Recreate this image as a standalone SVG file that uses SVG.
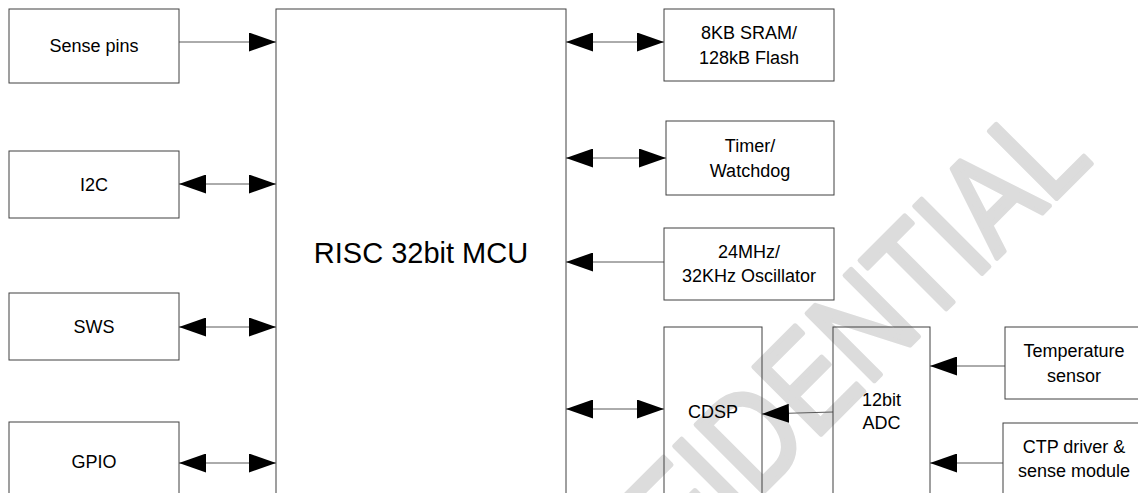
<svg xmlns="http://www.w3.org/2000/svg" width="1138" height="493" viewBox="0 0 1138 493">
<style>
.box{fill:none;stroke:#404040;stroke-width:1}
.t{font-family:"Liberation Sans",Arial,sans-serif;font-size:18px;fill:#000;text-anchor:middle}
.big{font-size:29px}
.c{fill:none;stroke:#595959;stroke-width:1}
.wm{font-family:"Liberation Sans",Arial,sans-serif;font-size:138px;fill:#dcdcdc;stroke:#dcdcdc;stroke-width:5;stroke-linejoin:round;stroke-linecap:round}
</style>
<defs>
<marker id="ah" viewBox="0 0 27 19" markerUnits="userSpaceOnUse" markerWidth="27" markerHeight="19" refX="27" refY="9.5" orient="auto-start-reverse">
<path d="M0,0 L27,9.5 L0,19 z" fill="#000"/>
</marker>
</defs>
<rect width="1138" height="493" fill="#fff"/>
<g id="watermark" transform="translate(629,629) rotate(-45) scale(0.82,1)">
<text class="wm" x="805" y="-2" text-anchor="end">CONFIDENTIAL</text>
</g>
<g id="connectors">
<line class="c" x1="179" y1="42" x2="276" y2="42" marker-end="url(#ah)"/>
<line class="c" x1="179" y1="184" x2="276" y2="184" marker-start="url(#ah)" marker-end="url(#ah)"/>
<line class="c" x1="179" y1="327" x2="276" y2="327" marker-start="url(#ah)" marker-end="url(#ah)"/>
<line class="c" x1="179" y1="463" x2="276" y2="463" marker-start="url(#ah)" marker-end="url(#ah)"/>
<line class="c" x1="566" y1="42" x2="664" y2="42" marker-start="url(#ah)" marker-end="url(#ah)"/>
<line class="c" x1="566" y1="158" x2="666" y2="158" marker-start="url(#ah)" marker-end="url(#ah)"/>
<line class="c" x1="664" y1="262" x2="566" y2="262" marker-end="url(#ah)"/>
<line class="c" x1="566" y1="409" x2="664" y2="409" marker-start="url(#ah)" marker-end="url(#ah)"/>
<line class="c" x1="833" y1="412" x2="762" y2="414" marker-end="url(#ah)"/>
<line class="c" x1="1005" y1="366" x2="930" y2="366" marker-end="url(#ah)"/>
<line class="c" x1="1003" y1="463" x2="930" y2="463" marker-end="url(#ah)"/>
</g>
<g id="sense-pins"><rect class="box" x="9" y="9" width="170" height="74"/><text class="t" x="94" y="52">Sense pins</text></g>
<g id="i2c"><rect class="box" x="9" y="151" width="170" height="67"/><text class="t" x="94" y="191">I2C</text></g>
<g id="sws"><rect class="box" x="9" y="293" width="170" height="67"/><text class="t" x="94" y="333">SWS</text></g>
<g id="gpio"><rect class="box" x="9" y="422" width="170" height="80"/><text class="t" x="94" y="468">GPIO</text></g>
<g id="mcu"><rect class="box" x="276" y="9" width="290" height="500"/><text class="t big" x="421" y="263">RISC 32bit MCU</text></g>
<g id="sram"><rect class="box" x="664" y="9" width="170" height="72"/><text class="t" x="749" y="39">8KB SRAM/</text><text class="t" x="749" y="64">128kB Flash</text></g>
<g id="timer"><rect class="box" x="666" y="121" width="168" height="74"/><text class="t" x="750" y="152">Timer/</text><text class="t" x="750" y="177">Watchdog</text></g>
<g id="osc"><rect class="box" x="664" y="228" width="170" height="72"/><text class="t" x="749" y="258">24MHz/</text><text class="t" x="749" y="282">32KHz Oscillator</text></g>
<g id="cdsp"><rect class="box" x="664" y="327" width="98" height="180"/><text class="t" x="713" y="418">CDSP</text></g>
<g id="adc"><rect class="box" x="833" y="327" width="97" height="180"/><text class="t" x="881.5" y="406">12bit</text><text class="t" x="881.5" y="429">ADC</text></g>
<g id="temp"><rect class="box" x="1005" y="327" width="138" height="72"/><text class="t" x="1074" y="357">Temperature</text><text class="t" x="1074" y="382">sensor</text></g>
<g id="ctp"><rect class="box" x="1003" y="423" width="142" height="80"/><text class="t" x="1074" y="453">CTP driver &amp;</text><text class="t" x="1074" y="477">sense module</text></g>
</svg>
